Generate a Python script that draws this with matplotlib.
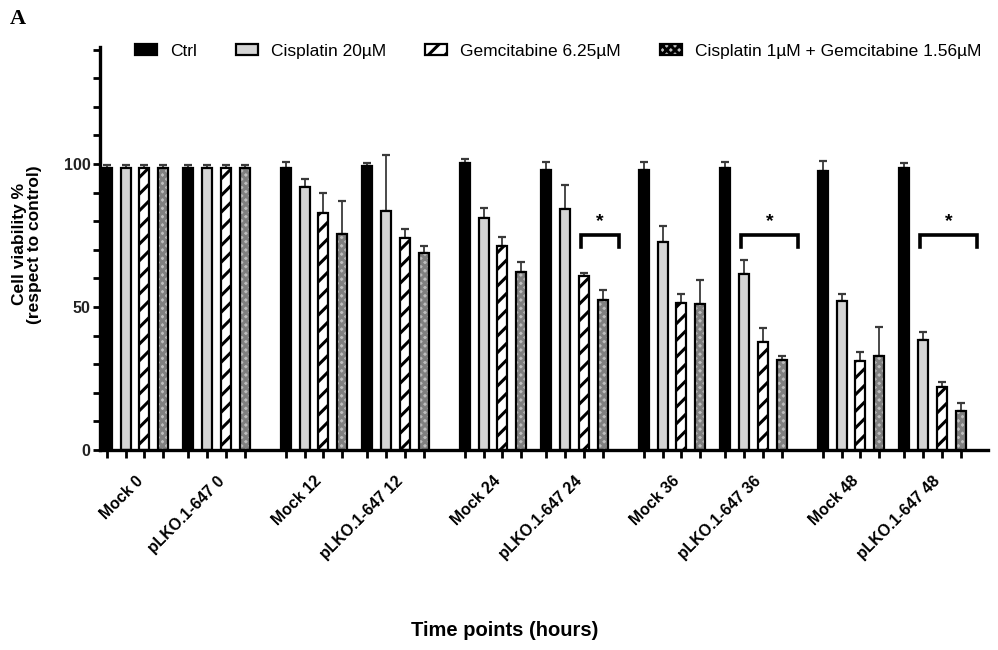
import numpy as np
import matplotlib
matplotlib.use('Agg')
import matplotlib.pyplot as plt

plt.rcParams['font.family'] = ['Liberation Sans', 'DejaVu Sans']
plt.rcParams['hatch.linewidth'] = 2.2

groups = ['Mock 0', 'pLKO.1-647 0', 'Mock 12', 'pLKO.1-647 12',
          'Mock 24', 'pLKO.1-647 24', 'Mock 36', 'pLKO.1-647 36',
          'Mock 48', 'pLKO.1-647 48']
treatments = ['Ctrl', 'Cisplatin 20\u00b5M', 'Gemcitabine 6.25\u00b5M',
              'Cisplatin 1\u00b5M + Gemcitabine 1.56\u00b5M']

ctrl = [98.5, 98.5, 98.5, 99.2, 100.3, 98.0, 98.0, 98.5, 97.5, 98.5]
ctrl_err = [1.2, 1.2, 2.2, 1.0, 1.5, 2.7, 2.7, 2.1, 3.5, 2.0]
cis = [98.5, 98.5, 91.9, 83.5, 81.2, 84.3, 72.7, 61.4, 52.0, 38.4]
cis_err = [1.2, 1.2, 2.9, 19.5, 3.4, 8.4, 5.7, 4.9, 2.7, 2.8]
gem = [98.5, 98.5, 82.9, 74.0, 71.4, 60.9, 51.4, 37.9, 31.2, 22.1]
gem_err = [1.2, 1.2, 6.8, 3.2, 3.2, 1.0, 3.1, 4.9, 3.0, 1.5]
combo = [98.5, 98.5, 75.6, 68.8, 62.1, 52.5, 50.9, 31.6, 32.8, 13.6]
combo_err = [1.2, 1.2, 11.6, 2.6, 3.7, 3.4, 8.4, 1.2, 10.2, 2.7]

# significance: (group index, first bar, last bar)
sig = [(5, 2, 3), (7, 1, 3), (9, 1, 3)]

values = [ctrl, cis, gem, combo]
errors = [ctrl_err, cis_err, gem_err, combo_err]

# layout (in bar-spacing units)
pair_gap = 1.32
time_gap = 2.15
width = 0.53
starts = []
for g in range(len(groups)):
    t, j = divmod(g, 2)
    starts.append(t * (6 + pair_gap + time_gap) + j * (3 + pair_gap))
starts = np.array(starts)

fig = plt.figure(figsize=(9.98, 6.5), dpi=100)
ax = fig.add_axes([0.1002, 0.3077, 0.8898, 0.6205])

styles = [
    dict(color='black', edgecolor='black'),
    dict(color='#d4d4d4', edgecolor='black'),
    dict(color='white', edgecolor='black', hatch='//'),
]

handles = []
for k in range(4):
    xs = starts + k
    if k == 3:
        # dotted fill drawn underneath, outline on top
        ax.bar(xs, values[k], width, color='#bdbdbd', edgecolor='#808080',
               linewidth=0, hatch='xxxx', zorder=2)
        ax.bar(xs, values[k], width, fill=False, edgecolor='black',
               linewidth=1.6, zorder=3)
        proxy = ax.bar([-10], [1], width, color='#bdbdbd', edgecolor='black',
                       linewidth=1.6, hatch='xxxx')
        handles.append(proxy)
    else:
        h = ax.bar(xs, values[k], width, linewidth=1.6, zorder=2, **styles[k])
        handles.append(h)
    ax.errorbar(xs, values[k], yerr=[np.zeros(len(xs)), errors[k]], fmt='none',
                ecolor='#3a3a3a', elinewidth=1.3, capsize=3, capthick=1.6, zorder=1)

# significance brackets
for g, a, b in sig:
    x0 = starts[g] + a - 0.15
    x1 = starts[g] + b + 0.85
    ax.plot([x0, x0, x1, x1], [71, 75, 75, 71], color='black', lw=2.6,
            solid_joinstyle='miter', zorder=4)
    ax.text((x0 + x1) / 2, 77, '*', ha='center', va='bottom', fontsize=14,
            fontweight='bold')

ax.set_xlim(-0.354, 46.63)
ax.set_ylim(0, 141)

ax.spines['top'].set_visible(False)
ax.spines['right'].set_visible(False)
ax.spines['left'].set_linewidth(2.4)
ax.spines['bottom'].set_linewidth(2.4)

ax.set_yticks([0, 50, 100])
ax.set_yticks(np.arange(0, 141, 10), minor=True)
ax.tick_params(axis='y', which='both', length=5, width=2, direction='out',
               labelsize=11.5, pad=2)
for lab in ax.get_yticklabels():
    lab.set_fontweight('bold')
    lab.set_color('#222222')

all_bars = np.concatenate([starts + k for k in range(4)])
ax.set_xticks(starts + 1.5)
ax.set_xticks(np.sort(all_bars), minor=True)
ax.tick_params(axis='x', which='minor', length=6, width=2, direction='out')
ax.tick_params(axis='x', which='major', length=0, pad=17)
ax.set_xticklabels(groups, rotation=45, ha='right', rotation_mode='anchor',
                   fontsize=11.4, fontweight='bold')

ax.set_ylabel('Cell viability %\n(respect to control)', fontsize=12.5,
              fontweight='bold', linespacing=1.0)
ax.yaxis.set_label_coords(-0.065, 0.51)
fig.text(0.506, 0.03, 'Time points (hours)', ha='center', va='center',
         fontsize=14.5, fontweight='bold')

ax.legend(handles, treatments, loc='center left', bbox_to_anchor=(0.039, 0.989),
          ncol=4, frameon=False, fontsize=12.5, handlelength=1.27,
          handleheight=0.6, columnspacing=2.25, handletextpad=0.75,
          borderaxespad=0, borderpad=0)

fig.text(0.01, 0.971, 'A', fontsize=16, fontweight='bold',
         family='Liberation Serif', va='center')

fig.savefig('out.png', dpi=100)
